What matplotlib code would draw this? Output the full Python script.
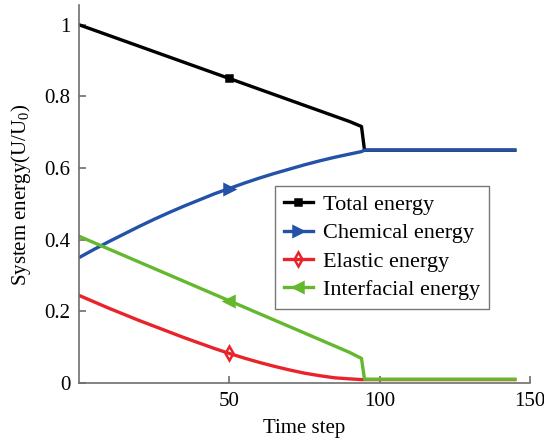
import matplotlib
matplotlib.use("Agg")
import matplotlib.pyplot as plt
from matplotlib.ticker import FuncFormatter

plt.rcParams["font.family"] = ["Liberation Serif", "DejaVu Serif"]
plt.rcParams["mathtext.fontset"] = "custom"
plt.rcParams["mathtext.rm"] = "Liberation Serif"

# Time steps at which the energies were sampled
steps = [0, 5, 10, 15, 20, 25, 30, 35, 40, 45, 50, 55, 60, 65, 70, 75, 80, 85, 90, 94,
         95, 100, 110, 120, 130, 140, 145]

total = [1.0, 0.985, 0.97, 0.955, 0.94, 0.925, 0.91, 0.895, 0.88, 0.865, 0.85, 0.835,
         0.82, 0.805, 0.79, 0.775, 0.76, 0.745, 0.73, 0.716,
         0.65, 0.65, 0.65, 0.65, 0.65, 0.65, 0.65]
chemical = [0.35, 0.373, 0.395, 0.416, 0.437, 0.457, 0.476, 0.494, 0.511, 0.528, 0.543,
            0.558, 0.572, 0.585, 0.597, 0.609, 0.620, 0.630, 0.639, 0.646,
            0.65, 0.65, 0.65, 0.65, 0.65, 0.65, 0.65]
elastic = [0.245, 0.227, 0.209, 0.192, 0.175, 0.159, 0.143, 0.127, 0.112, 0.097, 0.083,
           0.070, 0.058, 0.047, 0.037, 0.028, 0.021, 0.015, 0.012, 0.010,
           0.01, 0.01, 0.01, 0.01, 0.01, 0.01, 0.01]
interfacial = [0.41, 0.392, 0.374, 0.356, 0.338, 0.32, 0.302, 0.284, 0.266, 0.248, 0.23,
               0.212, 0.194, 0.176, 0.158, 0.14, 0.122, 0.104, 0.086, 0.069,
               0.011, 0.011, 0.011, 0.011, 0.011, 0.011, 0.011]

series = [
    ("Total energy", total, "#000000", "s", "#000000", 5),
    ("Chemical energy", chemical, "#2352a8", ">", "#2352a8", 6.5),
    ("Elastic energy", elastic, "#e8242a", "d", "none", 7.5),
    ("Interfacial energy", interfacial, "#64b82e", "<", "#64b82e", 6.5),
]
marker_idx = steps.index(50)

fig = plt.figure(figsize=(5.44, 4.44), dpi=100)
ax = fig.add_axes([0.145, 0.137, 0.829, 0.851])

for label, vals, color, mk, mfc, ms in series:
    ax.plot(steps, vals, color=color, lw=2.4, marker=mk, markevery=[marker_idx],
            markersize=ms, markerfacecolor=mfc, markeredgecolor=color,
            markeredgewidth=1.8, label=label, solid_joinstyle="round")

ax.set_xlim(0, 150)
ax.set_ylim(0, 1.054)
ax.set_xticks([50, 100, 150])
ax.set_yticks([0, 0.2, 0.4, 0.6, 0.8, 1.0])
ax.yaxis.set_major_formatter(FuncFormatter(lambda v, p: f"{v:g}"))

for side in ("top", "right"):
    ax.spines[side].set_visible(False)
for side in ("left", "bottom"):
    ax.spines[side].set_color("#6e6e6e")
    ax.spines[side].set_linewidth(1.2)
ax.tick_params(direction="in", length=5, width=1.2, color="#6e6e6e",
               labelsize=15, pad=6)

ax.set_xlabel("Time step", fontsize=15, labelpad=6)
ax.set_ylabel(r"System energy(U/U$_\mathregular{0}$)", fontsize=15, labelpad=8)

leg = ax.legend(loc="upper left", bbox_to_anchor=(0.435, 0.523), fontsize=16,
                frameon=True, fancybox=False, edgecolor="#555555",
                handlelength=1.3, handletextpad=0.45, borderpad=0.4,
                labelspacing=0.35, borderaxespad=0)
leg.get_frame().set_linewidth(1.0)

fig.savefig("out.png", dpi=100)
